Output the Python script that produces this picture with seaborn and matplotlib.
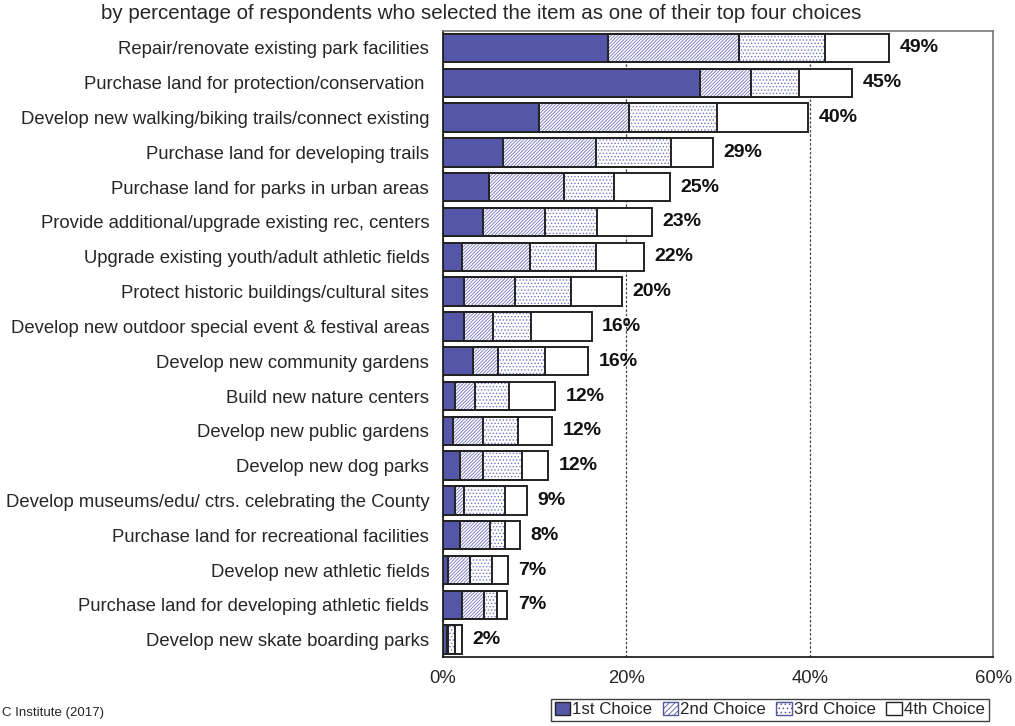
import numpy as np
import pandas as pd
import matplotlib
matplotlib.use("Agg")
import matplotlib.pyplot as plt
import matplotlib.patches as mpatches
import seaborn as sns

items = [
    "Repair/renovate existing park facilities",
    "Purchase land for protection/conservation ",
    "Develop new walking/biking trails/connect existing",
    "Purchase land for developing trails",
    "Purchase land for parks in urban areas",
    "Provide additional/upgrade existing rec, centers",
    "Upgrade existing youth/adult athletic fields",
    "Protect historic buildings/cultural sites",
    "Develop new outdoor special event & festival areas",
    "Develop new community gardens",
    "Build new nature centers",
    "Develop new public gardens",
    "Develop new dog parks",
    "Develop museums/edu/ ctrs. celebrating the County",
    "Purchase land for recreational facilities",
    "Develop new athletic fields",
    "Purchase land for developing athletic fields",
    "Develop new skate boarding parks",
]
first = [18.0, 28.0, 10.5, 6.5, 5.0, 4.4, 2.1, 2.3, 2.3, 3.3, 1.3, 1.1, 1.8, 1.3, 1.8, 0.5, 2.1, 0.4]
second = [14.3, 5.6, 9.8, 10.2, 8.2, 6.7, 7.4, 5.6, 3.2, 2.7, 2.2, 3.3, 2.6, 1.0, 3.3, 2.4, 2.4, 0.1]
third = [9.4, 5.2, 9.6, 8.2, 5.4, 5.7, 7.2, 6.1, 4.1, 5.1, 3.7, 3.8, 4.2, 4.5, 1.7, 2.4, 1.4, 0.8]
fourth = [7.0, 5.8, 9.9, 4.5, 6.2, 6.0, 5.2, 5.5, 6.6, 4.7, 5.0, 3.7, 2.9, 2.4, 1.6, 1.8, 1.1, 0.8]
totals = [49, 45, 40, 29, 25, 23, 22, 20, 16, 16, 12, 12, 12, 9, 8, 7, 7, 2]
series = ["1st Choice", "2nd Choice", "3rd Choice", "4th Choice"]
xticks = [0, 20, 40, 60]

sns.set_style("white")
plt.rcParams["font.family"] = ["Liberation Sans", "DejaVu Sans"]
plt.rcParams["hatch.linewidth"] = 0.6

BLUE = "#5656A8"
HATCH = "#7474C2"
EDGE = "#222222"

df = pd.DataFrame({"item": items})
df["c1"] = np.array(first)
df["c2"] = df["c1"] + np.array(second)
df["c3"] = df["c2"] + np.array(third)
df["c4"] = df["c3"] + np.array(fourth)

fig = plt.figure(figsize=(10.15, 7.26), dpi=100)
ax = fig.add_axes([0.4365, 0.095, 0.5419, 0.8629])

# cumulative layers, outermost first so the inner ones sit on top
layers = [("c4", "white", ""), ("c3", "white", "....."), ("c2", "white", "//////////"), ("c1", BLUE, "")]
for col, fc, hatch in layers:
    sns.barplot(data=df, x=col, y="item", orient="h", color=fc, saturation=1,
                width=0.82, hatch=hatch, edgecolor=HATCH, linewidth=0, ax=ax, zorder=2)
    sns.barplot(data=df, x=col, y="item", orient="h", fill=False, color=EDGE,
                width=0.82, linewidth=1.4, ax=ax, zorder=3)
    if col == "c4":
        outer = ax.containers[0]

ax.bar_label(outer, labels=[f"{t}%" for t in totals], padding=7.5,
             fontsize=14, fontweight="bold", color="#111111")

ax.set_xlim(0, 60)
ax.set_xticks(xticks)
ax.set_xticklabels([f"{t}%" for t in xticks])
ax.set_xlabel("")
ax.set_ylabel("")
ax.tick_params(axis="x", length=0, pad=9, labelsize=13.3)
ax.tick_params(axis="y", length=0, pad=10, labelsize=13.3)
ax.xaxis.grid(True, linestyle=(0, (2, 1.5)), color="#444444", linewidth=0.9)
ax.yaxis.grid(False)
ax.set_axisbelow(True)
for side in ["left", "bottom"]:
    ax.spines[side].set_color("#111111")
    ax.spines[side].set_linewidth(1.2)
for side in ["top", "right"]:
    ax.spines[side].set_color("#777777")
    ax.spines[side].set_linewidth(1.2)

fig.text(0.4745, 0.982, "by percentage of respondents who selected the item as one of their top four choices",
         ha="center", va="center", fontsize=14.8)
fig.text(0.002, 0.01, "C Institute (2017)", ha="left", va="bottom", fontsize=9.5)

handles = [
    mpatches.Patch(facecolor=BLUE, edgecolor=EDGE, label=series[0]),
    mpatches.Patch(facecolor="white", edgecolor="#55559A", hatch="//////", label=series[1]),
    mpatches.Patch(facecolor="white", edgecolor="#55559A", hatch="....", label=series[2]),
    mpatches.Patch(facecolor="white", edgecolor=EDGE, label=series[3]),
]
leg = fig.legend(handles=handles, loc="upper left", bbox_to_anchor=(0.543, 0.0372),
                 ncol=4, fontsize=12.2, frameon=True, fancybox=False, edgecolor="#111111",
                 handlelength=0.9, handleheight=0.75, handletextpad=0.15,
                 columnspacing=0.6, borderpad=0.2, borderaxespad=0)
leg.get_frame().set_linewidth(1.0)

fig.savefig("out.png", dpi=100)
